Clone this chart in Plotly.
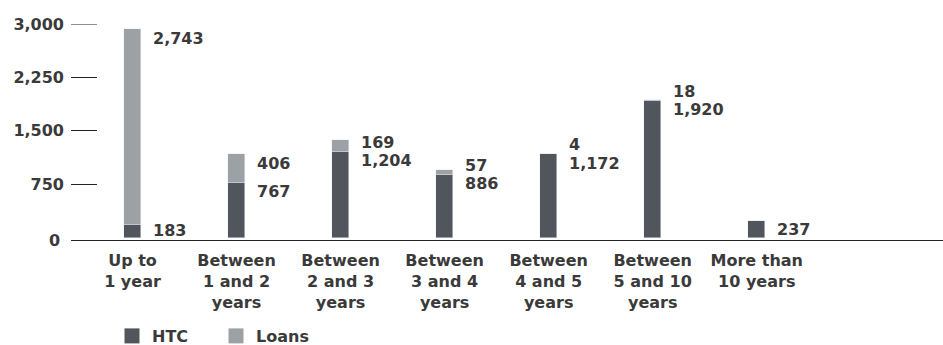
import plotly.graph_objects as go

categories = ["Up to<br>1 year", "Between<br>1 and 2<br>years", "Between<br>2 and 3<br>years",
              "Between<br>3 and 4<br>years", "Between<br>4 and 5<br>years",
              "Between<br>5 and 10<br>years", "More than<br>10 years"]
htc = [183, 767, 1204, 886, 1172, 1920, 237]
loans = [2743, 406, 169, 57, 4, 18, None]
y_ticks = [750, 1500, 2250, 3000]

HTC_COLOR = "#50565c"
LOANS_COLOR = "#9ca1a6"
TEXT = "#3a3a3a"
FONT = "DejaVu Sans"

W, H = 943, 345
M_L, M_R, M_T, M_B = 71, 0, 24, 105
Y_RANGE = [-34, 3000]
plot_h = H - M_T - M_B
ppu = plot_h / (Y_RANGE[1] - Y_RANGE[0])
FS = 16

fig = go.Figure()
fig.add_trace(go.Bar(x=categories, y=htc, name="HTC", marker_color=HTC_COLOR,
                     width=0.163, showlegend=False))
fig.add_trace(go.Bar(x=categories, y=[v if v else 0 for v in loans], name="Loans",
                     marker_color=LOANS_COLOR, width=0.163, showlegend=False))
# legend entries
for nm, col in [("HTC", HTC_COLOR), ("Loans", LOANS_COLOR)]:
    fig.add_trace(go.Scatter(x=[None], y=[None], mode="markers", name=nm,
                             marker=dict(symbol="square", size=15, color=col)))

lab_font = dict(family=FONT, size=FS, color=TEXT, weight="bold")
for i, cat in enumerate(categories):
    h = htc[i]
    h_top_px = h * ppu
    h_center = min(9, h_top_px - 7.5)
    fig.add_annotation(x=cat, y=h, text=f"{h:,}", showarrow=False, xanchor="left",
                       yanchor="middle", xshift=18.5, yshift=-h_center, font=lab_font)
    if loans[i]:
        l_pos = loans[i] * ppu - 9  # px above htc top
        l_pos = max(l_pos, -h_center + 18.5)
        fig.add_annotation(x=cat, y=h, text=f"{loans[i]:,}", showarrow=False, xanchor="left",
                           yanchor="middle", xshift=18.5, yshift=l_pos, font=lab_font)

fig.add_annotation(xref="paper", yref="paper", x=0, y=0, text="0", showarrow=False,
                   xanchor="right", yanchor="middle", xshift=-9, font=lab_font)

fig.update_layout(
    width=W, height=H, margin=dict(l=M_L, r=M_R, t=M_T, b=M_B),
    barmode="stack", plot_bgcolor="white", paper_bgcolor="white",
    font=dict(family=FONT, size=FS, color=TEXT, weight="bold"),
    xaxis=dict(range=[-0.591, 7.79], showline=True, linecolor="#222", linewidth=1.3,
               ticks="", showgrid=False, zeroline=False, tickfont=dict(size=FS, weight="bold"),
               ticklabelstandoff=6),
    yaxis=dict(range=Y_RANGE, showline=False, showgrid=False, zeroline=False,
               ticks="inside", ticklen=26, tickcolor="#222", tickwidth=1,
               tickvals=y_ticks, ticktext=[f"{v:,}" for v in y_ticks],
               tickfont=dict(size=FS, weight="bold"), ticklabelstandoff=6),
    legend=dict(orientation="h", xref="container", yref="container", traceorder="normal",
                x=112 / W, y=1 - 319 / H, xanchor="left", yanchor="top",
                entrywidth=59, font=dict(size=FS, weight="bold"), bgcolor="rgba(0,0,0,0)"),
    bargap=0,
)
# draw the 3,000 tick mark explicitly in case the edge tick is clipped
fig.add_shape(type="line", xref="paper", yref="y", x0=0, x1=26 / (W - M_L - M_R),
              y0=y_ticks[-1], y1=y_ticks[-1], line=dict(color="#222", width=1))
fig.write_html("out.html")
